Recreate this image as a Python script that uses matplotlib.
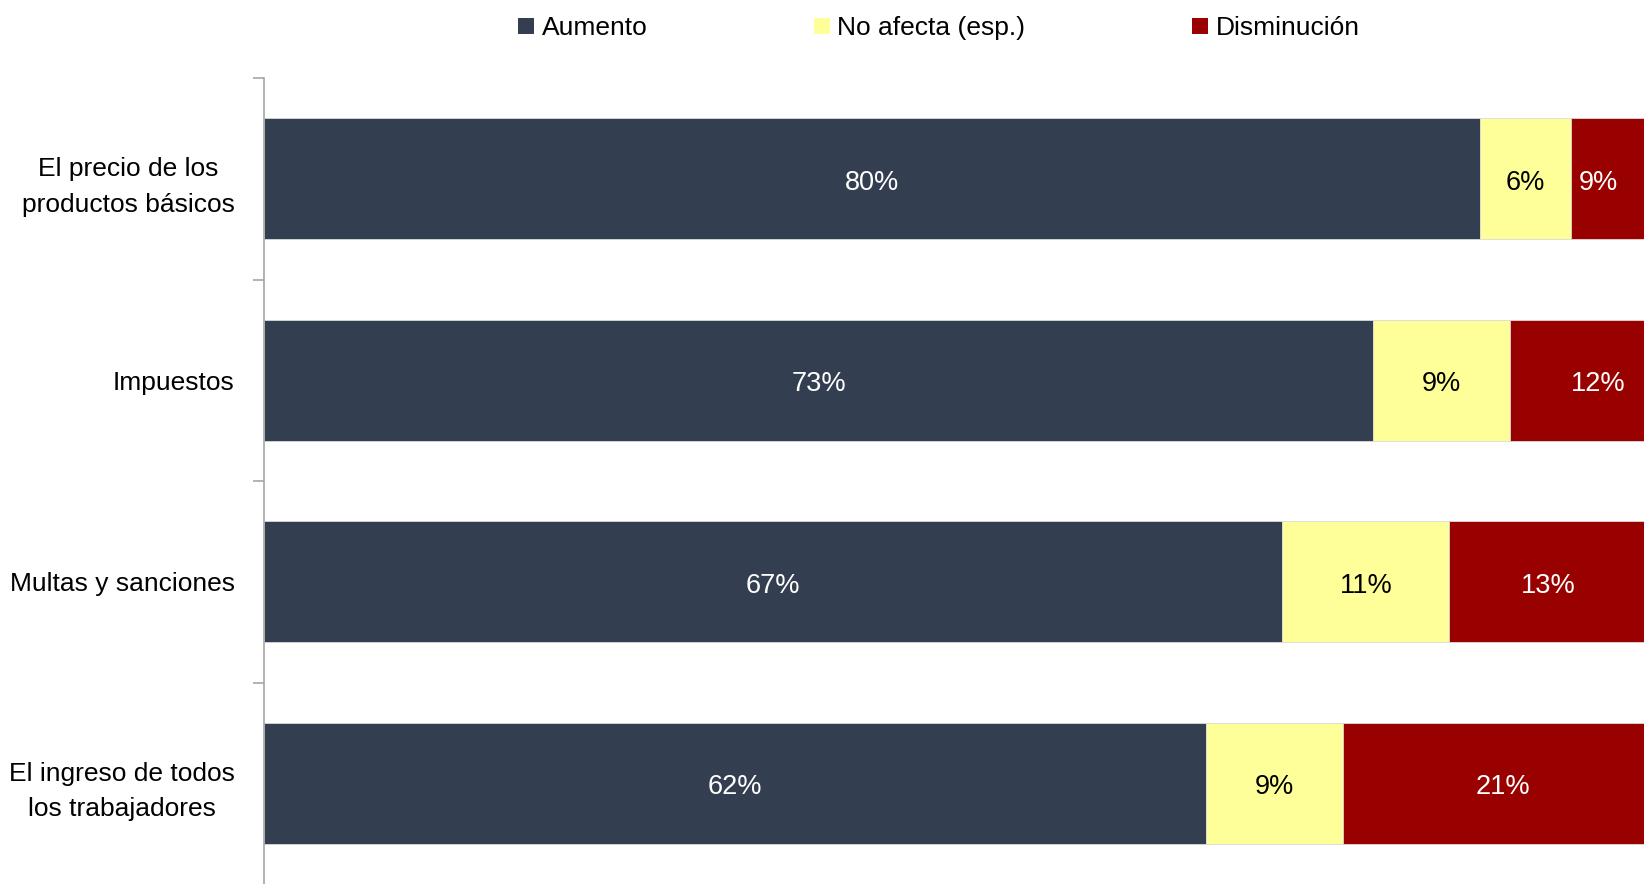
import numpy as np
import matplotlib
matplotlib.use("Agg")
import matplotlib.pyplot as plt
from matplotlib.patches import Patch

plt.rcParams['font.family'] = ['Liberation Sans', 'DejaVu Sans']

categorias = ["El precio de los\nproductos básicos", "Impuestos",
              "Multas y sanciones", "El ingreso de todos\nlos trabajadores"]
aumento = [80, 73, 67, 62]
no_afecta = [6, 9, 11, 9]
disminucion = [9, 12, 13, 21]

series = ["Aumento", "No afecta (esp.)", "Disminución"]
colores = ["#333f50", "#ffff99", "#990000"]
color_txt = ["white", "black", "white"]

xmax = 90.8

fig = plt.figure(figsize=(16.44, 8.84), dpi=100)
ax = fig.add_axes([264/1644, 0, 1 - 264/1644, 1 - 78/884])

y = np.arange(len(categorias))
izq = np.zeros(len(categorias))
for vals, col, tc in zip([aumento, no_afecta, disminucion], colores, color_txt):
    vals = np.array(vals, dtype=float)
    ax.barh(y, vals, left=izq, height=0.6, color=col, edgecolor="#d9d9d9", linewidth=0.6)
    for yi, l, v in zip(y, izq, vals):
        # keep labels of cut-off segments inside the picture
        xc = min(l + v/2, xmax - 3)
        ax.text(xc, yi + 0.02, f"{int(v)}%", ha="center", va="center",
                color=tc, fontsize=19.5)
    izq += vals

ax.set_xlim(0, xmax)
ax.set_ylim(3.5, -0.5)
ax.set_yticks(y)
ax.set_yticklabels(categorias, fontsize=19, multialignment="center", linespacing=1.6)
ax.set_yticks([-0.5, 0.5, 1.5, 2.5], minor=True)
ax.tick_params(axis="y", which="major", length=0, pad=21)
ax.tick_params(axis="y", which="minor", length=8, color="#a6a6a6", width=1.2)
ax.set_xticks([])
for s in ["top", "right", "bottom"]:
    ax.spines[s].set_visible(False)
ax.spines["left"].set_color("#a6a6a6")
ax.spines["left"].set_linewidth(1.2)

handles = [Patch(facecolor=c, edgecolor="none") for c in colores]
fig.legend(handles, series, loc="center", bbox_to_anchor=(0.571, 0.968), ncol=3,
           frameon=False, fontsize=19, handlelength=0.6, handleheight=0.6,
           handletextpad=0.3, columnspacing=6.3)

fig.savefig("out.png", dpi=100)
